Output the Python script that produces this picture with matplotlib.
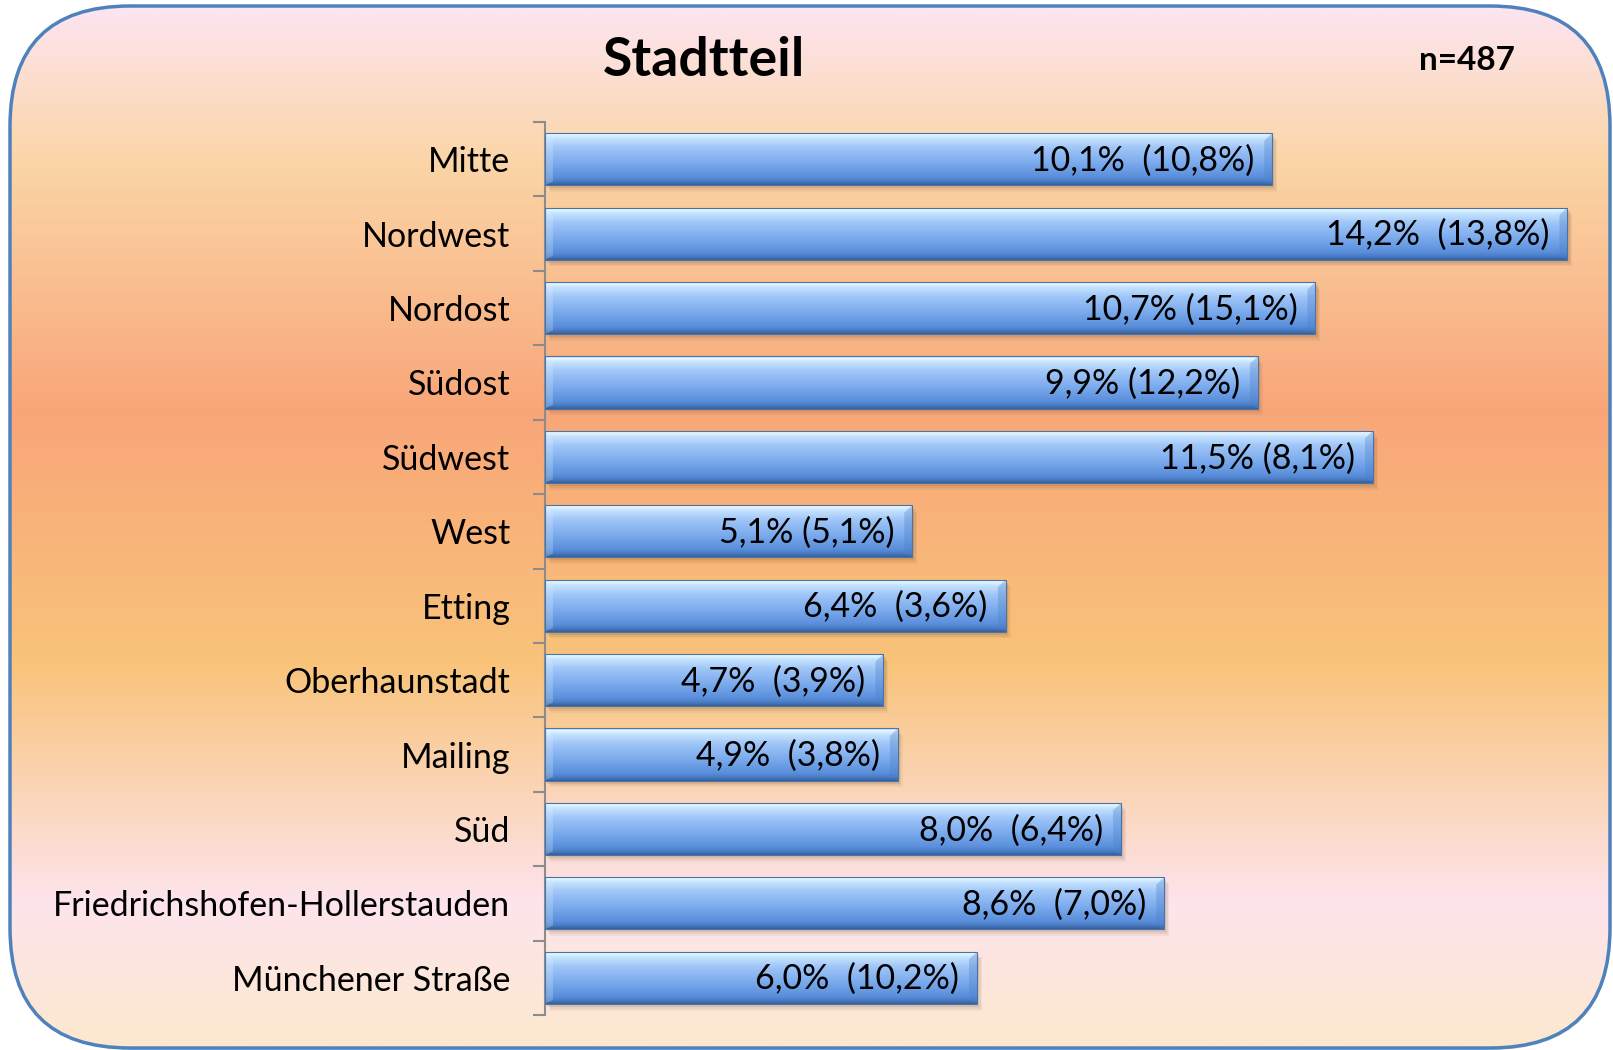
import numpy as np
import matplotlib.pyplot as plt
from matplotlib.patches import FancyBboxPatch, Rectangle, Polygon
from matplotlib.colors import LinearSegmentedColormap

plt.rcParams['font.family'] = ['Lato', 'DejaVu Sans']

# data
categories = ['Mitte', 'Nordwest', 'Nordost', 'Südost', 'Südwest', 'West', 'Etting',
              'Oberhaunstadt', 'Mailing', 'Süd', 'Friedrichshofen-Hollerstauden',
              'Münchener Straße']
share = [10.1, 14.2, 10.7, 9.9, 11.5, 5.1, 6.4, 4.7, 4.9, 8.0, 8.6, 6.0]
share_prev = [10.8, 13.8, 15.1, 12.2, 8.1, 5.1, 3.6, 3.9, 3.8, 6.4, 7.0, 10.2]
gaps = [2, 2, 1, 1, 1, 1, 2, 2, 2, 2, 2, 2]   # spaces between the two numbers
title = 'Stadtteil'
n_label = 'n=487'


def fmt(v):
    return f'{v:.1f}'.replace('.', ',') + '%'


W, H = 1613, 1050
fig = plt.figure(figsize=(W / 100, H / 100), dpi=100)

# ---- rounded gradient background box
bg = fig.add_axes([0, 0, 1, 1])
bg.axis('off')

shadow = FancyBboxPatch((13, 10), 1598, 1040, boxstyle='round,pad=0,rounding_size=120',
                        fc='black', ec='none', alpha=0.12, zorder=0)
bg.add_patch(shadow)
box = FancyBboxPatch((10, 6), 1600, 1042, boxstyle='round,pad=0,rounding_size=120',
                     fc='none', ec='#4f81bd', lw=2.5, zorder=3)
bg.add_patch(box)

bg_stops = [(0.0, '#fde5f1'), (0.15, '#fbd5a6'), (0.39, '#f8a678'),
            (0.63, '#f9c37a'), (0.86, '#fde4ec'), (1.0, '#fce9cf')]
bg_cmap = LinearSegmentedColormap.from_list('bgc', bg_stops)
grad = np.linspace(0, 1, 512).reshape(-1, 1)
im = bg.imshow(grad, cmap=bg_cmap, extent=(10, 1610, 1048, 6), aspect='auto', zorder=1)
im.set_clip_path(box)
bg.set_xlim(0, W)
bg.set_ylim(H, 0)

# ---- bar chart
left, right, top, bottom = 545, 1600, 122, 1015
ax = fig.add_axes([left / W, 1 - bottom / H, (right - left) / W, (bottom - top) / H])
ax.patch.set_alpha(0)

n = len(categories)
y = np.arange(n)
bh = 0.7
xmax = (right - left) / 72.0

bar_stops = [(0.0, '#a7c4e6'), (0.04, '#e8f8ff'), (0.12, '#c4e2ff'), (0.3, '#9fc5f8'),
             (0.6, '#79a9ec'), (0.85, '#5a8fdb'), (0.93, '#4a7cc4'), (1.0, '#365f98')]
bar_cmap = LinearSegmentedColormap.from_list('barc', bar_stops)
bgrad = np.linspace(0, 1, 256).reshape(-1, 1)

bars = ax.barh(y, share, height=bh, color='none', edgecolor='#4a74a8', lw=0.8, zorder=4)
bx = 0.11   # bevel width (x units)
by = 0.1    # bevel height (y units)
for rect, v, pv, g in zip(bars, share, share_prev, gaps):
    x0, y0 = rect.get_x(), rect.get_y()
    w, h = rect.get_width(), rect.get_height()
    # soft shadow
    for k, a in enumerate([0.10, 0.08, 0.06]):
        ax.add_patch(Rectangle((x0 + 0.03 + 0.02 * k, y0 + 0.04 + 0.025 * k), w, h,
                               fc='#5a3a20', ec='none', alpha=a, zorder=2))
    gi = ax.imshow(bgrad, cmap=bar_cmap, extent=(x0, x0 + w, y0 + h, y0),
                   aspect='auto', zorder=3)
    gi.set_clip_path(rect)
    # bevel edges
    ax.add_patch(Polygon([(x0 + w - bx, y0 + by), (x0 + w, y0), (x0 + w, y0 + h),
                          (x0 + w - bx, y0 + h - by * 0.5)],
                         closed=True, fc='#4d80c8', ec='none', alpha=0.35, zorder=3.5))
    ax.add_patch(Polygon([(x0, y0), (x0 + bx, y0 + by), (x0 + bx, y0 + h - by * 0.5),
                          (x0, y0 + h)],
                         closed=True, fc='#dff2ff', ec='none', alpha=0.25, zorder=3.5))
    txt = fmt(v) + ' ' * g + '(' + fmt(pv) + ')'
    ax.annotate(txt, (x0 + w, y0 + h / 2), xytext=(-13, -1), textcoords='offset points',
                ha='right', va='center', fontsize=24.5, color='black', zorder=6)

ax.set_xlim(0, xmax)
ax.set_ylim(n - 0.5, -0.5)
ax.set_xticks([])
ax.set_yticks(np.arange(n + 1) - 0.5)
ax.set_yticklabels([])
ax.set_yticks(y, minor=True)
ax.set_yticklabels(categories, minor=True, fontsize=24.5)
ax.tick_params(axis='y', which='major', length=9, width=1.5, color='#8c8c8c', direction='out')
ax.tick_params(axis='y', which='minor', length=0, pad=25)
for s in ['top', 'right', 'bottom']:
    ax.spines[s].set_visible(False)
ax.spines['left'].set_color('#8c8c8c')
ax.spines['left'].set_linewidth(1.5)

fig.text(704 / W, 1 - 60 / H, title, ha='center', va='center', fontsize=38.5, weight='bold')
fig.text(1467 / W, 1 - 60 / H, n_label, ha='center', va='center', fontsize=24, weight='bold')

fig.savefig('out.png', dpi=100)
